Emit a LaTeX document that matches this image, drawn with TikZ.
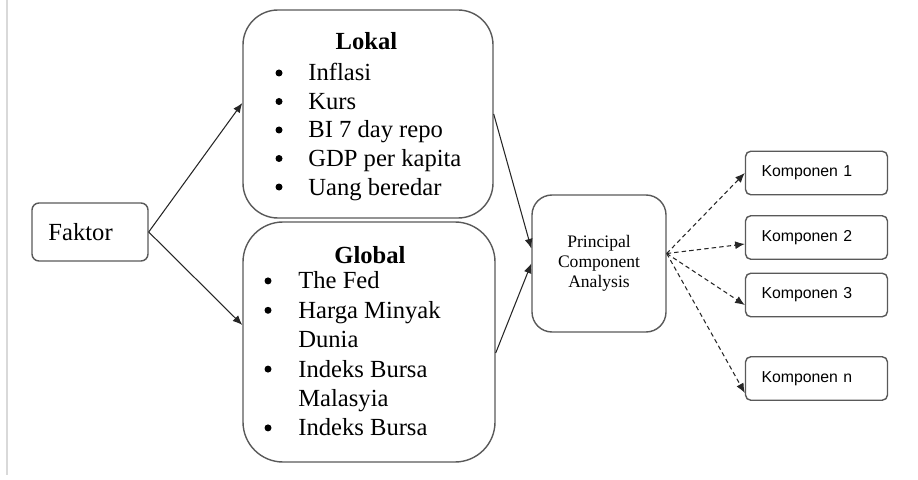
\documentclass[tikz,border=0pt]{standalone}
\usepackage{fontspec}
\setmainfont{Liberation Serif}
\newfontfamily\kompfont{Liberation Sans}
\usetikzlibrary{arrows.meta}

\begin{document}
\begin{tikzpicture}[
	box/.style={draw=black!65,line width=0.8pt,rounded corners=#1},
	item/.style={anchor=base west,inner sep=0pt,font=\fontsize{14}{16}\selectfont},
	dot/.style={circle,fill,inner sep=0pt,minimum size=0.14cm},
	arr/.style={-{Latex[length=5.5pt,width=4.5pt]},black!85,line width=0.6pt}]
\useasboundingbox (0,0) rectangle (18.36,9.58);
\draw[black!15,line width=0.8pt] (0.14,9.58) -- (0.14,0.08);
\node (faktor) [box=4pt,minimum height=1.16cm,text width=1.66cm,inner xsep=0.33cm,align=left,font=\fontsize{14}{16}\selectfont] at (1.80,4.94) {Faktor};
\node (lokal) [box=0.7cm,minimum width=5cm,minimum height=4.16cm] at (7.36,7.30) {};
\node (global) [box=0.8cm,minimum width=5.04cm,minimum height=4.8cm] at (7.38,2.74) {};
\node (lokaltitle) [item,anchor=base,font=\bfseries\fontsize{14}{16}\selectfont] at (7.33,8.58) {Lokal};
\node (globaltitle) [item,anchor=base,font=\bfseries\fontsize{14}{16}\selectfont] at (7.40,4.30) {Global};
\foreach \t [count=\i] in {Inflasi,Kurs,BI 7 day repo,GDP per kapita,Uang beredar}{
	\node (lok\i) [item] at (6.16,8.53-0.57*\i) {\t};
	\node (lokdot\i) [dot] at (5.58,8.69-0.57*\i) {};
}
\foreach \t [count=\i] in {The Fed,Harga Minyak,Dunia,Indeks Bursa,Malasyia,Indeks Bursa}{
	\node (glo\i) [item] at (5.96,4.39-0.588*\i) {\t};
}
\foreach \i in {1,2,4,6}{
	\node (glodot\i) [dot] at (5.36,4.55-0.588*\i) {};
}
\node (pca) [box=0.4cm,minimum width=2.68cm,minimum height=2.74cm,align=center,font=\fontsize{10}{11.3}\selectfont] at (11.98,4.31) {Principal\\Component\\Analysis};
\foreach \i/\y in {1/6.12,2/4.83,3/3.68,n/2.01}{
	\node (komp\i) [box=3pt,minimum height=0.87cm,text width=2.2cm,inner xsep=0.32cm,align=left,font=\kompfont\fontsize{9}{11}\selectfont] at (16.33,\y) {Komponen \i};
}
\draw[arr] (faktor.east) -- ([yshift=0.22cm]lokal.west);
\draw[arr] (faktor.east) -- ([yshift=0.34cm]global.west);
\draw[arr] (lokal.east) -- ([yshift=0.3cm]pca.west);
\draw[arr] ([yshift=-0.22cm]global.east) -- (pca.west);
\foreach \i/\s in {1/0,2/-0.13,3/-0.2,n/-0.29}{
	\draw[arr,dash pattern=on 2.5pt off 1.8pt] ([yshift=0.2cm]pca.east) -- ([yshift=\s cm]komp\i.west);
}
\end{tikzpicture}
\end{document}
